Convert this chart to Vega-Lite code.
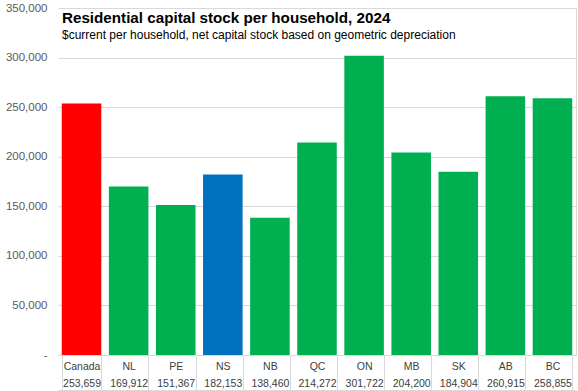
{
  "$schema": "https://vega.github.io/schema/vega-lite/v6.json",
  "width": 518,
  "height": 347,
  "autosize": {"type": "none"},
  "padding": {"left": 58, "top": 8, "right": 2, "bottom": 36},
  "background": "white",
  "config": {"view": {"stroke": null}},
  "title": {
    "text": "Residential capital stock per household, 2024",
    "subtitle": "$current per household, net capital stock based on geometric depreciation",
    "anchor": "start",
    "frame": "group",
    "orient": "top",
    "offset": -39,
    "dx": 4,
    "font": "Liberation Sans",
    "fontSize": 15.2,
    "fontWeight": "bold",
    "color": "#000000",
    "subtitleFont": "Liberation Sans",
    "subtitleFontSize": 12,
    "subtitleColor": "#000000",
    "subtitlePadding": 4
  },
  "data": {
    "values": [
      {"region": "Canada", "value": 253659},
      {"region": "NL", "value": 169912},
      {"region": "PE", "value": 151367},
      {"region": "NS", "value": 182153},
      {"region": "NB", "value": 138460},
      {"region": "QC", "value": 214272},
      {"region": "ON", "value": 301722},
      {"region": "MB", "value": 204200},
      {"region": "SK", "value": 184904},
      {"region": "AB", "value": 260915},
      {"region": "BC", "value": 258855}
    ]
  },
  "transform": [
    {"calculate": "datum.region + '|' + format(datum.value, ',')", "as": "label"}
  ],
  "layer": [
    {
      "mark": {"type": "bar"},
      "encoding": {
        "x": {
          "field": "label",
          "type": "nominal",
          "sort": null,
          "scale": {"paddingInner": 0.16, "paddingOuter": 0.08},
          "axis": {
            "title": null,
            "orient": "bottom",
            "labelAngle": 0,
            "labelExpr": "split(datum.label, '|')",
            "labelFont": "Liberation Sans",
            "labelFontSize": 10.5,
            "labelColor": "#404040",
            "labelLineHeight": 17,
            "labelPadding": -29,
            "tickBand": "extent",
            "tickSize": 35,
            "tickColor": "#d9d9d9",
            "domainColor": "#d9d9d9",
            "grid": false
          }
        },
        "y": {
          "field": "value",
          "type": "quantitative",
          "scale": {"domain": [0, 350000], "nice": false},
          "axis": {
            "title": null,
            "values": [0, 50000, 100000, 150000, 200000, 250000, 300000, 350000],
            "labelExpr": "datum.value == 0 ? '-\u00a0\u00a0' : format(datum.value, ',')",
            "labelFont": "Liberation Sans",
            "labelFontSize": 11.5,
            "labelColor": "#595959",
            "labelPadding": 11,
            "ticks": false,
            "domain": false,
            "grid": true,
            "gridColor": "#d9d9d9"
          }
        },
        "color": {
          "field": "region",
          "type": "nominal",
          "legend": null,
          "scale": {
            "domain": ["Canada", "NL", "PE", "NS", "NB", "QC", "ON", "MB", "SK", "AB", "BC"],
            "range": ["#FF0000", "#00B050", "#00B050", "#0070C0", "#00B050", "#00B050", "#00B050", "#00B050", "#00B050", "#00B050", "#00B050"]
          }
        }
      }
    },
    {
      "mark": {"type": "point", "opacity": 0},
      "encoding": {
        "x": {
          "field": "label",
          "type": "nominal",
          "sort": null,
          "axis": {
            "orient": "bottom",
            "offset": 35,
            "title": null,
            "labels": false,
            "ticks": false,
            "grid": false,
            "domain": true,
            "domainColor": "#d9d9d9"
          }
        },
        "y": {
          "field": "value",
          "type": "quantitative",
          "axis": {
            "orient": "right",
            "title": null,
            "labels": false,
            "ticks": false,
            "grid": false,
            "domain": true,
            "domainColor": "#d9d9d9"
          }
        }
      }
    }
  ],
  "resolve": {"axis": {"x": "independent", "y": "independent"}}
}
